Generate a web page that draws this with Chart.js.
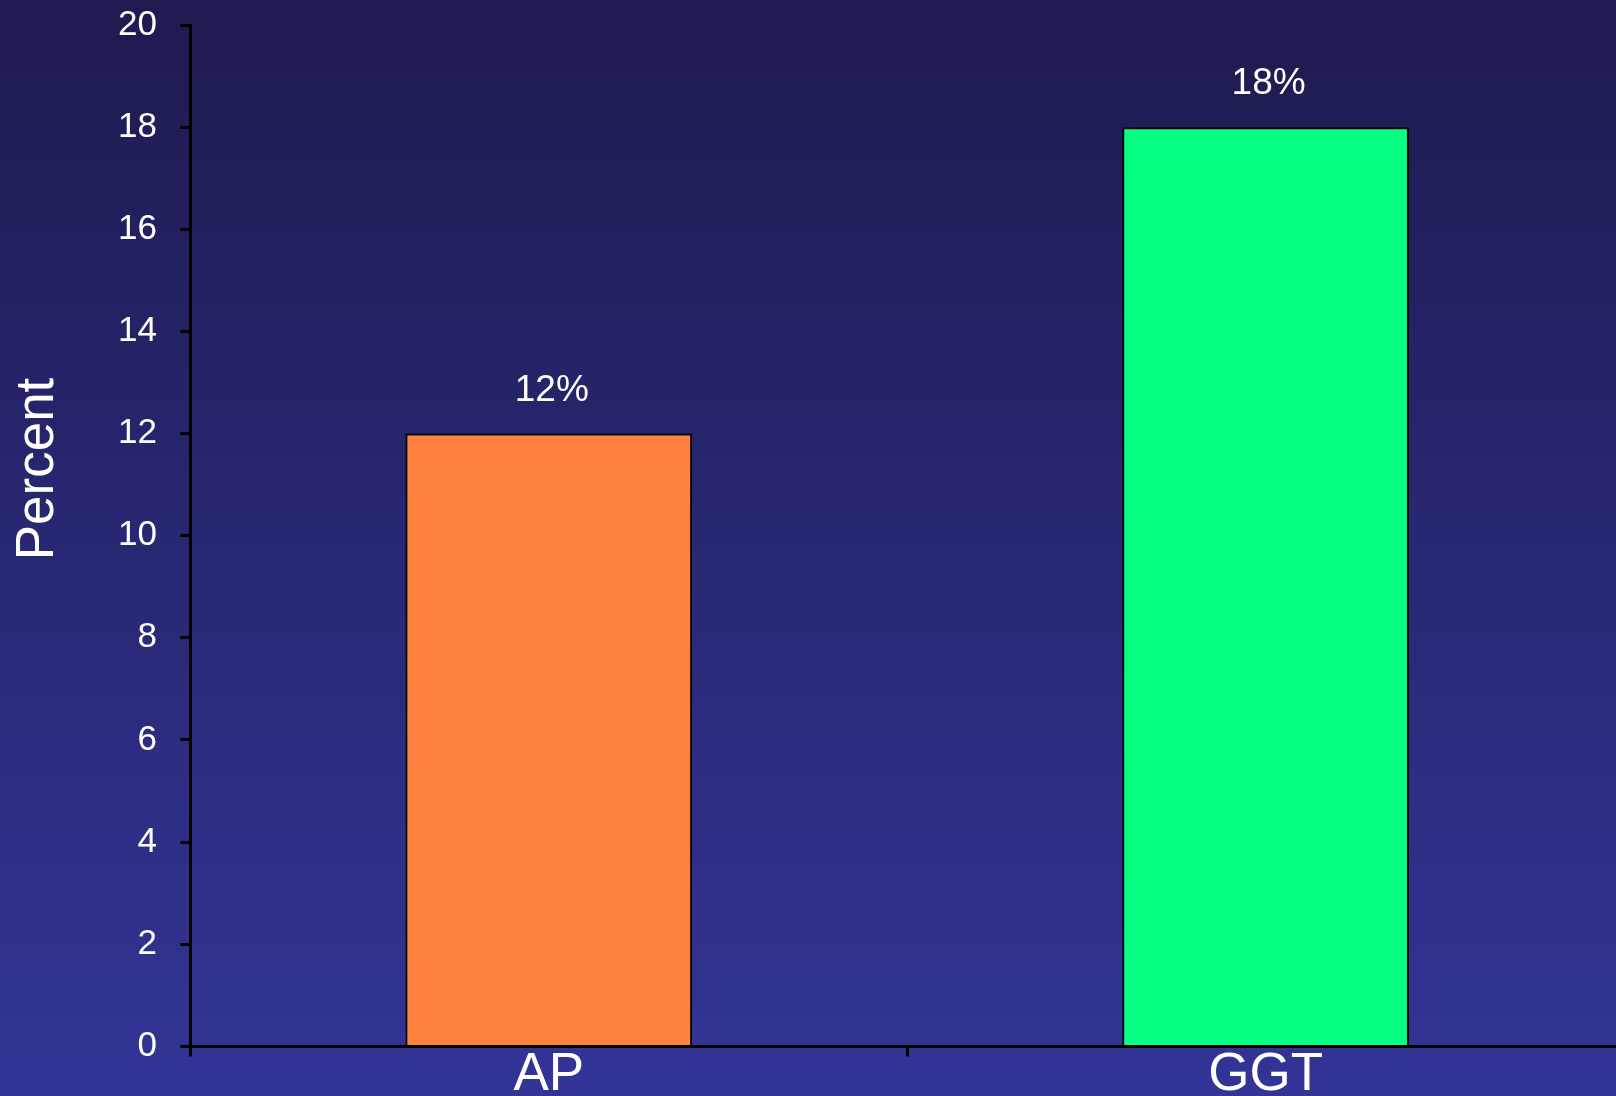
<!DOCTYPE html>
<html>
<head>
<meta charset="utf-8">
<script src="https://cdn.jsdelivr.net/npm/chart.js@4.4.0/dist/chart.umd.min.js"></script>
<style>
  html, body { margin: 0; padding: 0; overflow: hidden; background: #343497; }
  #wrap { width: 1624px; height: 1094px; }
</style>
</head>
<body>
<div id="wrap"><canvas id="chart" width="1624" height="1094"></canvas></div>
<script>
// Chart data
const categories = ['AP', 'GGT'];
const percentValues = [12, 18];
const valueLabels = ['12%', '18%'];
const yTicks = [0, 2, 4, 6, 8, 10, 12, 14, 16, 18, 20];

const FONT = '"Liberation Sans", Arial, Helvetica, sans-serif';

// Small dithered fill like the original
function makePattern(c1, c2) {
  const p = document.createElement('canvas');
  p.width = 2;
  p.height = 2;
  const g = p.getContext('2d');
  g.fillStyle = c1;
  g.fillRect(0, 0, 2, 2);
  g.fillStyle = c2;
  g.fillRect(0, 0, 1, 1);
  g.fillRect(1, 1, 1, 1);
  return g.createPattern(p, 'repeat');
}

const ctx = document.getElementById('chart');
const barFills = [
  makePattern('#ff7630', '#ff8c4a'),
  makePattern('#00ff7c', '#0cff86')
];

// Background gradient
const backgroundPlugin = {
  id: 'bg',
  beforeDraw(chart) {
    const g = chart.ctx;
    const grad = g.createLinearGradient(0, 0, 0, 1096);
    grad.addColorStop(0, '#1d1b4f');
    grad.addColorStop(1, '#343497');
    g.save();
    g.fillStyle = grad;
    g.fillRect(0, 0, chart.width, chart.height);
    g.restore();
  }
};

// Value labels above bars and the y title
const labelPlugin = {
  id: 'labels',
  afterDatasetsDraw(chart) {
    const g = chart.ctx;
    const meta = chart.getDatasetMeta(0);
    g.save();
    g.fillStyle = '#ffffff';
    g.font = '37px ' + FONT;
    g.textAlign = 'center';
    g.textBaseline = 'middle';
    meta.data.forEach((bar, i) => {
      g.fillText(valueLabels[i], bar.x + 3, bar.y - 43);
    });
    // y axis title
    g.translate(38, 469);
    g.rotate(-Math.PI / 2);
    g.font = '53px ' + FONT;
    g.fillText('Percent', 0, 0);
    g.restore();
  }
};

const chart = new Chart(ctx, {
  type: 'bar',
  data: {
    labels: categories,
    datasets: [{
      data: percentValues,
      backgroundColor: barFills,
      borderColor: '#000000',
      borderWidth: 2,
      borderSkipped: 'bottom',
      barPercentage: 0.4,
      categoryPercentage: 1.0
    }]
  },
  options: {
    responsive: false,
    animation: false,
    devicePixelRatio: 1,
    layout: {
      padding: { left: 114, top: 0, right: 0, bottom: 0 }
    },
    plugins: {
      legend: { display: false },
      tooltip: { enabled: false }
    },
    scales: {
      x: {
        offset: true,
        grid: {
          offset: true,
          drawOnChartArea: false,
          drawTicks: true,
          tickLength: 10,
          color: '#000000',
          lineWidth: 3
        },
        border: { color: '#000000', width: 3 },
        ticks: {
          color: '#ffffff',
          padding: -13,
          font: { family: FONT, size: 53 }
        }
      },
      y: {
        min: 0,
        max: 20,
        afterBuildTicks(scale) {
          scale.ticks = yTicks.map(v => ({ value: v }));
        },
        grid: {
          drawOnChartArea: false,
          drawTicks: true,
          tickLength: 10,
          color: '#000000',
          lineWidth: 3
        },
        border: { color: '#000000', width: 3 },
        ticks: {
          color: '#ffffff',
          padding: 4,
          // trailing spaces keep the gap without padding the top of the chart
          callback: v => v + '  ',
          font: { family: FONT, size: 35 }
        }
      }
    }
  },
  plugins: [backgroundPlugin, labelPlugin]
});
</script>
</body>
</html>
